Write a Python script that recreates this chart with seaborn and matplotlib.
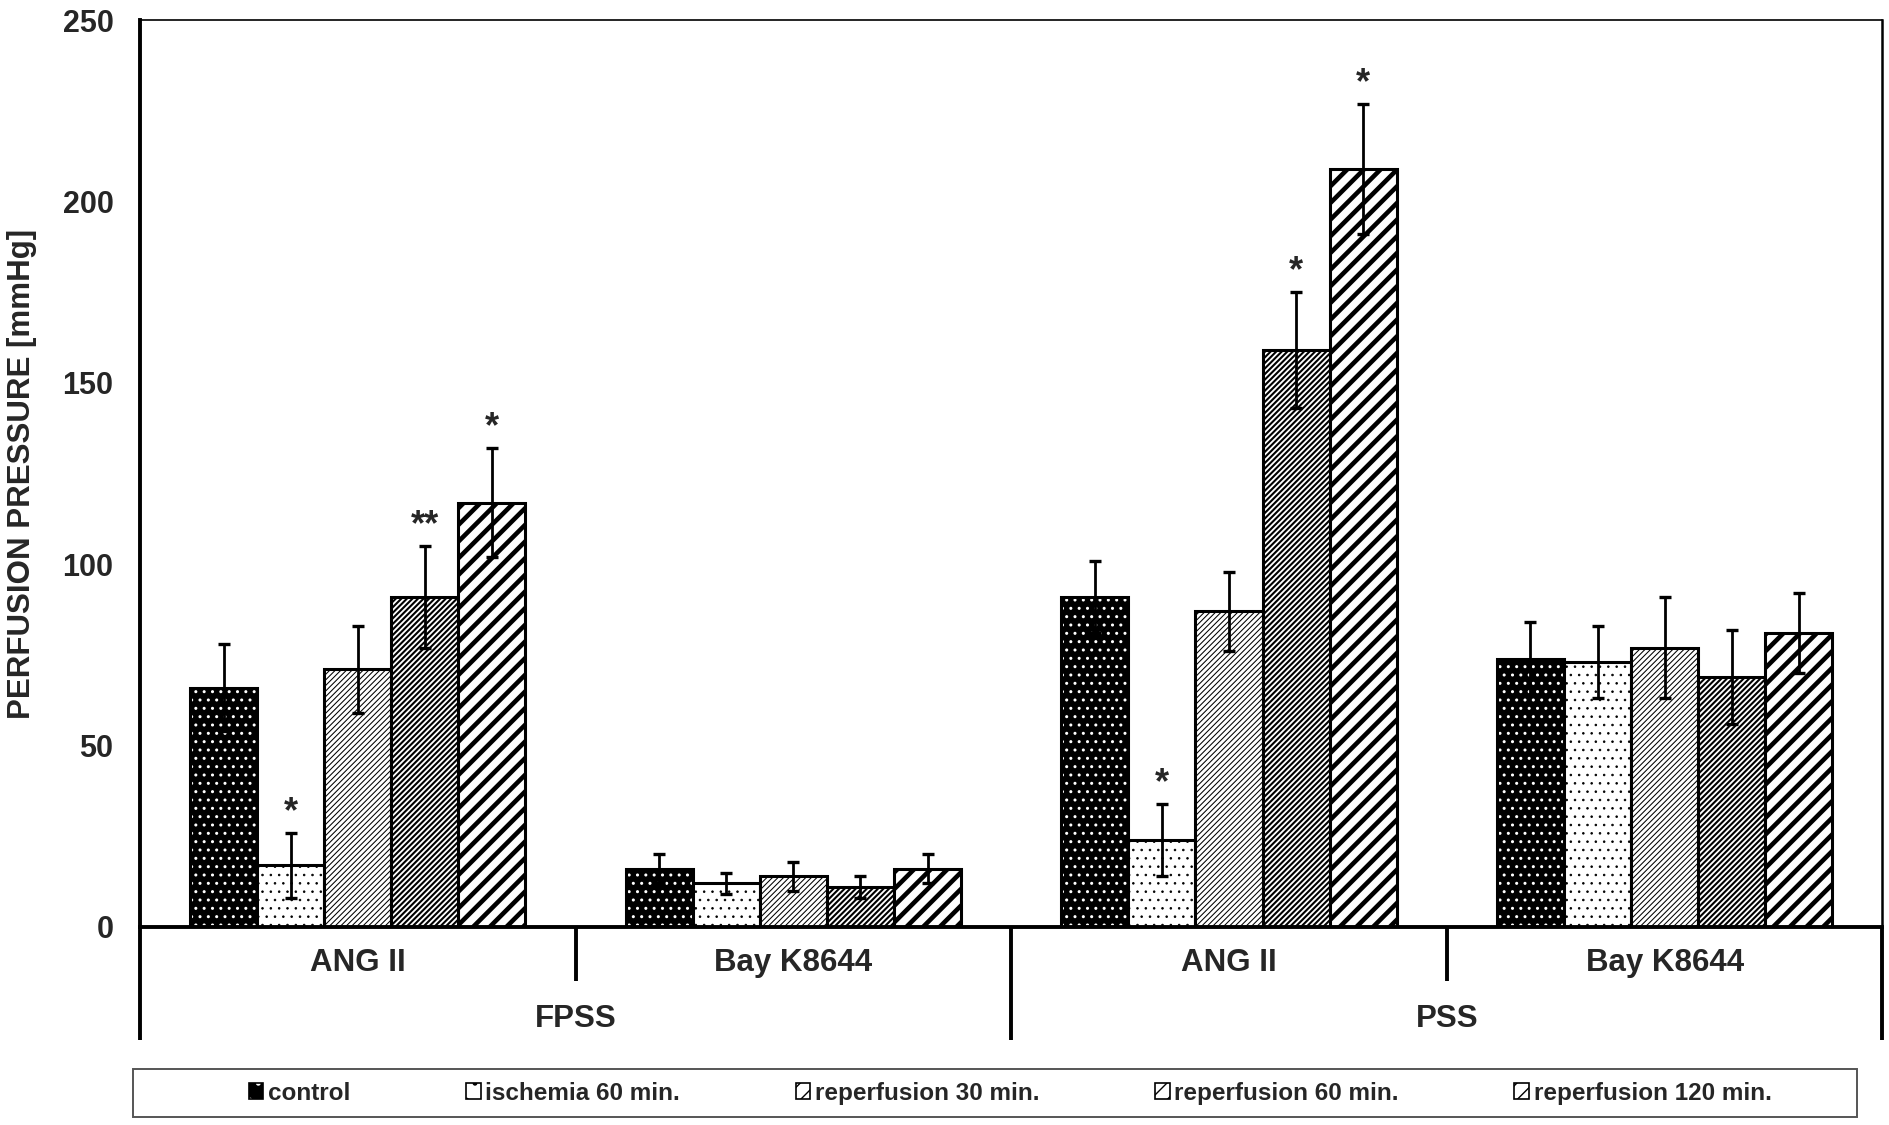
import numpy as np
import pandas as pd
import matplotlib
matplotlib.use("Agg")
import matplotlib.pyplot as plt
import matplotlib.transforms as mtransforms
import seaborn as sns
from matplotlib.patches import Patch, Rectangle

# groups along the x axis (FPSS: first two, PSS: last two)
group_keys = ["FPSS ANG II", "FPSS Bay K8644", "PSS ANG II", "PSS Bay K8644"]
stimuli = ["ANG II", "Bay K8644", "ANG II", "Bay K8644"]
solutions = ["FPSS", "PSS"]
conditions = ["control", "ischemia 60 min.", "reperfusion 30 min.",
              "reperfusion 60 min.", "reperfusion 120 min."]

# mean perfusion pressure [mmHg]
control = [66, 16, 91, 74]
ischemia_60 = [17, 12, 24, 73]
reperfusion_30 = [71, 14, 87, 77]
reperfusion_60 = [91, 11, 159, 69]
reperfusion_120 = [117, 16, 209, 81]

# error bars
control_err = [12, 4, 10, 10]
ischemia_60_err = [9, 3, 10, 10]
reperfusion_30_err = [12, 4, 11, 14]
reperfusion_60_err = [14, 3, 16, 13]
reperfusion_120_err = [15, 4, 18, 11]

# significance marks
control_sig = ["", "", "", ""]
ischemia_60_sig = ["*", "", "*", ""]
reperfusion_30_sig = ["", "", "", ""]
reperfusion_60_sig = ["**", "", "*", ""]
reperfusion_120_sig = ["*", "", "*", ""]

means = [control, ischemia_60, reperfusion_30, reperfusion_60, reperfusion_120]
errs = [control_err, ischemia_60_err, reperfusion_30_err, reperfusion_60_err, reperfusion_120_err]
sigs = [control_sig, ischemia_60_sig, reperfusion_30_sig, reperfusion_60_sig, reperfusion_120_sig]

rows = []
for cond, vals in zip(conditions, means):
    for g, v in zip(group_keys, vals):
        rows.append({"group": g, "condition": cond, "pressure": v})
df = pd.DataFrame(rows)

sns.set_style("white")
plt.rcParams["font.family"] = ["Liberation Sans", "DejaVu Sans"]
plt.rcParams["font.weight"] = "bold"

fig = plt.figure(figsize=(18.9, 11.25), dpi=100)
ax = fig.add_axes([0.074, 0.176, 0.922, 0.806])

sns.barplot(data=df, x="group", y="pressure", hue="condition",
            order=group_keys, hue_order=conditions, errorbar=None,
            width=0.77, ax=ax, legend=False)

# fills / hatches per condition
styles = [
    dict(face="black", hatch="..", hcolor="white", hlw=1.0, lhatch="."),
    dict(face="white", hatch="..", hcolor="black", hlw=0.6, lhatch="."),
    dict(face="white", hatch="//////", hcolor="black", hlw=0.75, lhatch="//"),
    dict(face="white", hatch="//////", hcolor="black", hlw=1.5, lhatch="//"),
    dict(face="white", hatch="//", hcolor="black", hlw=3.3, lhatch="//"),
]


def style_patch(p, st, hatch, lw=2.2):
    p.set_facecolor(st["face"])
    p.set_edgecolor("black")
    p.set_linewidth(lw)
    p.set_hatch(hatch)
    if hasattr(p, "set_hatch_linewidth"):
        p.set_hatch_linewidth(st["hlw"])
    p._hatch_color = matplotlib.colors.to_rgba(st["hcolor"])


for cont, st, err, sig in zip(ax.containers, styles, errs, sigs):
    xs = []
    for p in cont.patches:
        style_patch(p, st, st["hatch"])
        xs.append(p.get_x() + p.get_width() / 2)
    vals = [p.get_height() for p in cont.patches]
    ax.errorbar(xs, vals, yerr=err, fmt="none", ecolor="black",
                elinewidth=2, capsize=4.5, capthick=2.4, zorder=5)
    for x, v, e, s in zip(xs, vals, err, sig):
        if s:
            ax.text(x, v + e + 3.0, s, ha="center", va="baseline",
                    fontsize=26, fontweight="bold")

ax.set_ylim(0, 250)
ax.set_xlim(-0.5, 3.5)
ax.set_yticks(np.arange(0, 251, 50))
ax.tick_params(axis="y", labelsize=22, length=6, width=3, direction="out", pad=13)
ax.set_xticks(range(len(group_keys)))
ax.set_xticklabels(stimuli, fontsize=22.5, fontweight="bold")
ax.tick_params(axis="x", length=0, pad=15)
ax.set_xlabel("")
ax.set_ylabel("PERFUSION PRESSURE [mmHg]", fontsize=22.5, fontweight="bold")
ax.yaxis.set_label_coords(-0.059, 0.5)

for side in ["left", "bottom"]:
    ax.spines[side].set_linewidth(2.8)
    ax.spines[side].set_color("black")
ax.spines["top"].set_linewidth(1.2)
ax.spines["right"].set_linewidth(1.8)
for side in ["top", "right"]:
    ax.spines[side].set_color("black")

# group separators below the axis
trans = mtransforms.blended_transform_factory(ax.transData, ax.transAxes)
for x, depth in [(-0.5, -0.125), (0.5, -0.06), (1.5, -0.125), (2.5, -0.06), (3.5, -0.125)]:
    ax.plot([x, x], [0, depth], color="black", lw=2.8, transform=trans, clip_on=False,
            solid_capstyle="butt")
for i, sol in enumerate(solutions):
    ax.text(2 * i + 0.5, -0.102, sol, transform=trans, ha="center", va="center",
            fontsize=22.5, fontweight="bold")

# legend frame spanning the width, entries centred inside
fig.patches.append(Rectangle((0.0704, 0.0071), 0.9121, 0.0427, transform=fig.transFigure,
                             facecolor="white", edgecolor="#555555", linewidth=1.4,
                             zorder=0))
handles = []
for st in styles:
    h = Patch(facecolor=st["face"], edgecolor="black", hatch=st["lhatch"], linewidth=1.2)
    handles.append(h)
leg = fig.legend(handles, conditions, loc="center", ncol=5,
                 bbox_to_anchor=(0.5345, 0.0284), frameon=False,
                 handlelength=0.6, handleheight=0.6, handletextpad=0.2,
                 columnspacing=4.75, borderpad=0, borderaxespad=0,
                 prop={"weight": "bold", "size": 17.5})
for h, st in zip(leg.legend_handles, styles):
    h._hatch_color = matplotlib.colors.to_rgba(st["hcolor"])

fig.savefig("out.png", dpi=100)
